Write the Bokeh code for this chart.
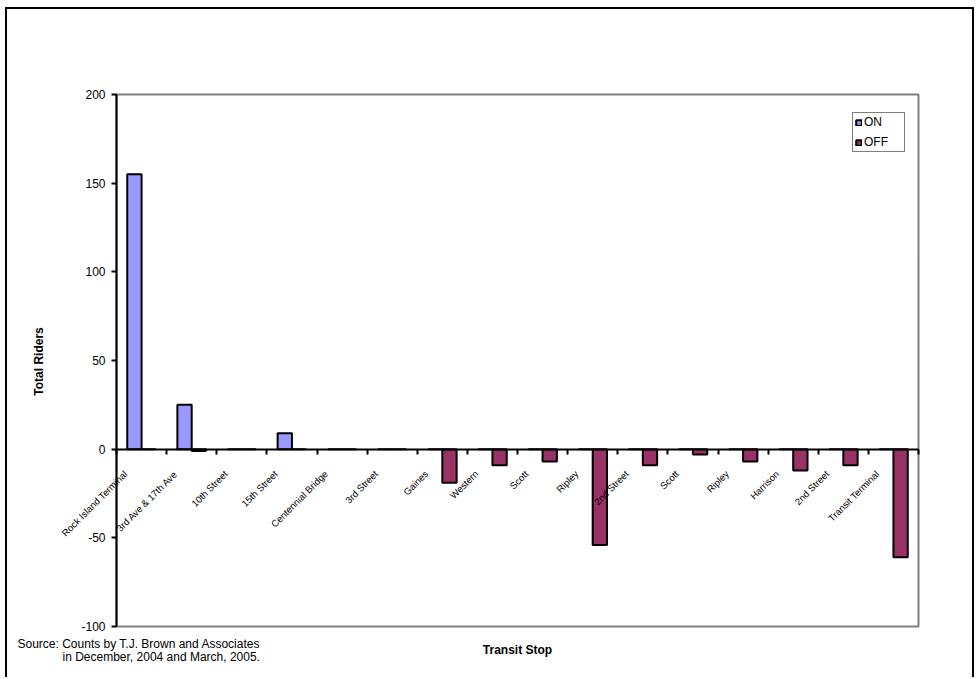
import math
from bokeh.plotting import figure
from bokeh.models import (ColumnDataSource, LinearAxis, FixedTicker, Range1d,
                          LabelSet, Label, Legend)
from bokeh.core.properties import value
from bokeh.embed import file_html
from bokeh.resources import INLINE

# ---- data ----
stops = ["Rock Island Terminal", "3rd Ave & 17th Ave", "10th Street", "15th Street",
         "Centennial Bridge", "3rd Street", "Gaines", "Western", "Scott", "Ripley",
         "2nd Street", "Scott", "Ripley", "Harrison", "2nd Street", "Transit Terminal"]
riders_on = [155, 25, 0, 9, 0, 0, 0, 0, 0, 0, 0, 0, 0, 0, 0, 0]
riders_off = [0, -1, 0, 0, 0, 0, -19, -9, -7, -54, -9, -3, -7, -12, -9, -61]
y_ticks = [-100, -50, 0, 50, 100, 150, 200]

FONT = "Liberation Sans"
ON_COLOR = "#9999FF"
OFF_COLOR = "#993366"

# ---- layout (canvas pixels) ----
W, H = 969, 670
PL, PR, PT, PB = 109, 911, 85, 617   # plot-area box inside the canvas

n = len(stops)
ymin, ymax = y_ticks[0], y_ticks[-1]
xs = (PR - PL) / n
ys = (PB - PT) / (ymax - ymin)
x_range = Range1d(-PL / xs, n + (W - PR) / xs)
y_range = Range1d(ymin - (H - PB) / ys, ymax + PT / ys)

bar_w = 1 / 3.5
centers = [i + 0.5 for i in range(n)]
src = ColumnDataSource(dict(
    stop=stops,
    center=centers,
    x_on=[c - bar_w / 2 for c in centers],
    x_off=[c + bar_w / 2 for c in centers],
    on=riders_on,
    off=riders_off,
    zero=[0] * n,
))

p = figure(width=W, height=H, output_backend="svg", toolbar_location=None,
           x_range=x_range, y_range=y_range, x_axis_location=None,
           y_axis_location=None, min_border=0)
p.styles = {"border-top": "2px solid black", "border-left": "2px solid black",
            "border-right": "2px solid black", "margin-left": "5px", "margin-top": "7px"}
p.background_fill_color = "white"
p.border_fill_color = "white"
p.grid.visible = False
p.outline_line_color = None

# plot area border
p.quad(left=[0], right=[n], bottom=[ymin], top=[ymax], fill_color=None,
       line_color="#808080", line_width=2, level="underlay")

r_on = p.vbar(x="x_on", top="on", bottom=0, width=bar_w, source=src,
              fill_color=ON_COLOR, line_color="black", line_width=2)
r_off = p.vbar(x="x_off", top="zero", bottom="off", width=bar_w, source=src,
               fill_color=OFF_COLOR, line_color="black", line_width=2)

# y axis
ya = LinearAxis(fixed_location=0, bounds=(ymin, ymax), ticker=FixedTicker(ticks=y_ticks),
                major_label_overrides={t: str(t) for t in y_ticks},
                minor_tick_line_color=None, major_tick_in=0, major_tick_out=5,
                major_tick_line_width=2, axis_line_width=2, axis_line_color="black",
                major_label_text_font=FONT, major_label_text_font_size="12px",
                major_label_text_color="black", major_label_standoff=6)
p.add_layout(ya, "left")

# zero axis with category boundary ticks
zero_axis = LinearAxis(fixed_location=0, bounds=(0, n),
                       ticker=FixedTicker(ticks=list(range(n + 1))),
                       major_tick_in=0, major_tick_out=5, major_tick_line_width=2,
                       minor_tick_line_color=None, axis_line_width=2,
                       axis_line_color="black", major_label_text_color=None)
p.add_layout(zero_axis, "below")

labels = LabelSet(x="center", y="zero", text="stop", source=src, angle=math.pi / 4,
                  text_align="right", text_baseline="middle", x_offset=-16, y_offset=-23,
                  text_font=value(FONT), text_font_size=value("9.5px"),
                  text_color=value("black"))
p.add_layout(labels)

legend = Legend(items=[("ON", [r_on]), ("OFF", [r_off])], location=(PR - 66, H - PT - 58),
                border_line_color="black", border_line_width=1, padding=2, spacing=6,
                glyph_width=7, glyph_height=7, label_height=14, label_width=38,
                label_standoff=2, margin=0, label_text_font=FONT,
                label_text_color="black",
                label_text_font_size="12px", background_fill_alpha=1)
p.add_layout(legend)

texts = [
    ("Total Riders", 31, 318, math.pi / 2, "center", "bold", "12px"),
    ("Transit Stop", (PL + PR) / 2, 30, 0, "center", "bold", "12px"),
    ("Source: Counts by T.J. Brown and Associates", 10, 36, 0, "left", "normal", "12px"),
    ("in December, 2004 and March, 2005.", 55, 23, 0, "left", "normal", "12px"),
]
for txt, x, y, ang, align, style, size in texts:
    p.add_layout(Label(x=x, y=y, x_units="screen", y_units="screen", text=txt,
                       angle=ang, text_font=FONT, text_font_size=size,
                       text_font_style=style, text_color="black",
                       text_baseline="middle", text_align=align))

open("out.html", "w").write(file_html(p, INLINE))
